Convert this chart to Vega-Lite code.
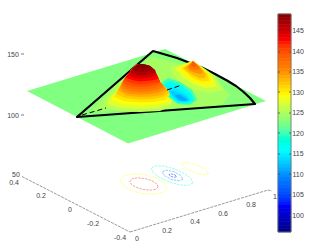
{"$schema":"https://vega.github.io/schema/vega-lite/v6.json","width":317,"height":245,"padding":0,"autosize":"none","background":"white","config":{"view":{"stroke":null}},
"datasets":{
"back":[
{"s":"plane","i":0,"u":27,"v":91,"z":122.5},{"s":"plane","i":1,"u":165,"v":49,"z":122.5},{"s":"plane","i":2,"u":266,"v":101,"z":122.5},{"s":"plane","i":3,"u":128,"v":143.5,"z":122.5},
{"s":"base","i":0,"u":77,"v":117,"z":123},{"s":"base","i":1,"u":153,"v":51,"z":123},{"s":"base","i":2,"u":165,"v":54.5,"z":123},{"s":"base","i":3,"u":177,"v":58,"z":123},{"s":"base","i":4,"u":190,"v":63,"z":123},{"s":"base","i":5,"u":203,"v":68,"z":123},{"s":"base","i":6,"u":215,"v":74,"z":123},{"s":"base","i":7,"u":227,"v":80.5,"z":123},{"s":"base","i":8,"u":236,"v":86,"z":123},{"s":"base","i":9,"u":243,"v":91.5,"z":123},{"s":"base","i":10,"u":250,"v":98,"z":123},{"s":"base","i":11,"u":255,"v":104,"z":123},
{"s":"glow","i":0,"u":92,"v":111,"z":124.5},{"s":"glow","i":1,"u":115,"v":85,"z":124.5},{"s":"glow","i":2,"u":150,"v":57,"z":124.5},{"s":"glow","i":3,"u":175,"v":62,"z":124.5},{"s":"glow","i":4,"u":205,"v":75,"z":124.5},{"s":"glow","i":5,"u":230,"v":94,"z":124.5},{"s":"glow","i":6,"u":222,"v":105,"z":124.5},{"s":"glow","i":7,"u":150,"v":110,"z":124.5}
],
"bar":[
{"u":278,"u2":291,"v":14,"v2":17.4,"z":148.7},{"u":278,"u2":291,"v":17.4,"v2":20.8,"z":147.9},{"u":278,"u2":291,"v":20.8,"v2":24.2,"z":147},{"u":278,"u2":291,"v":24.2,"v2":27.6,"z":146.2},{"u":278,"u2":291,"v":27.6,"v2":31,"z":145.4},{"u":278,"u2":291,"v":31,"v2":34.4,"z":144.5},{"u":278,"u2":291,"v":34.4,"v2":37.8,"z":143.7},{"u":278,"u2":291,"v":37.8,"v2":41.2,"z":142.9},{"u":278,"u2":291,"v":41.2,"v2":44.7,"z":142.1},{"u":278,"u2":291,"v":44.7,"v2":48.1,"z":141.2},{"u":278,"u2":291,"v":48.1,"v2":51.5,"z":140.4},{"u":278,"u2":291,"v":51.5,"v2":54.9,"z":139.6},{"u":278,"u2":291,"v":54.9,"v2":58.3,"z":138.7},{"u":278,"u2":291,"v":58.3,"v2":61.7,"z":137.9},{"u":278,"u2":291,"v":61.7,"v2":65.1,"z":137.1},{"u":278,"u2":291,"v":65.1,"v2":68.5,"z":136.3},{"u":278,"u2":291,"v":68.5,"v2":71.9,"z":135.4},{"u":278,"u2":291,"v":71.9,"v2":75.3,"z":134.6},{"u":278,"u2":291,"v":75.3,"v2":78.7,"z":133.8},{"u":278,"u2":291,"v":78.7,"v2":82.1,"z":132.9},{"u":278,"u2":291,"v":82.1,"v2":85.5,"z":132.1},{"u":278,"u2":291,"v":85.5,"v2":88.9,"z":131.3},{"u":278,"u2":291,"v":88.9,"v2":92.3,"z":130.4},{"u":278,"u2":291,"v":92.3,"v2":95.7,"z":129.6},{"u":278,"u2":291,"v":95.7,"v2":99.2,"z":128.8},{"u":278,"u2":291,"v":99.2,"v2":102.6,"z":128},{"u":278,"u2":291,"v":102.6,"v2":106,"z":127.1},{"u":278,"u2":291,"v":106,"v2":109.4,"z":126.3},{"u":278,"u2":291,"v":109.4,"v2":112.8,"z":125.5},{"u":278,"u2":291,"v":112.8,"v2":116.2,"z":124.6},{"u":278,"u2":291,"v":116.2,"v2":119.6,"z":123.8},{"u":278,"u2":291,"v":119.6,"v2":123,"z":123},{"u":278,"u2":291,"v":123,"v2":126.4,"z":122.1},{"u":278,"u2":291,"v":126.4,"v2":129.8,"z":121.3},{"u":278,"u2":291,"v":129.8,"v2":133.2,"z":120.5},{"u":278,"u2":291,"v":133.2,"v2":136.6,"z":119.6},{"u":278,"u2":291,"v":136.6,"v2":140,"z":118.8},{"u":278,"u2":291,"v":140,"v2":143.4,"z":118},{"u":278,"u2":291,"v":143.4,"v2":146.8,"z":117.2},{"u":278,"u2":291,"v":146.8,"v2":150.2,"z":116.3},{"u":278,"u2":291,"v":150.2,"v2":153.6,"z":115.5},{"u":278,"u2":291,"v":153.6,"v2":157.1,"z":114.7},{"u":278,"u2":291,"v":157.1,"v2":160.5,"z":113.8},{"u":278,"u2":291,"v":160.5,"v2":163.9,"z":113},{"u":278,"u2":291,"v":163.9,"v2":167.3,"z":112.2},{"u":278,"u2":291,"v":167.3,"v2":170.7,"z":111.3},{"u":278,"u2":291,"v":170.7,"v2":174.1,"z":110.5},{"u":278,"u2":291,"v":174.1,"v2":177.5,"z":109.7},{"u":278,"u2":291,"v":177.5,"v2":180.9,"z":108.9},{"u":278,"u2":291,"v":180.9,"v2":184.3,"z":108},{"u":278,"u2":291,"v":184.3,"v2":187.7,"z":107.2},{"u":278,"u2":291,"v":187.7,"v2":191.1,"z":106.4},{"u":278,"u2":291,"v":191.1,"v2":194.5,"z":105.5},{"u":278,"u2":291,"v":194.5,"v2":197.9,"z":104.7},{"u":278,"u2":291,"v":197.9,"v2":201.3,"z":103.9},{"u":278,"u2":291,"v":201.3,"v2":204.7,"z":103},{"u":278,"u2":291,"v":204.7,"v2":208.1,"z":102.2},{"u":278,"u2":291,"v":208.1,"v2":211.6,"z":101.4},{"u":278,"u2":291,"v":211.6,"v2":215,"z":100.6},{"u":278,"u2":291,"v":215,"v2":218.4,"z":99.7},{"u":278,"u2":291,"v":218.4,"v2":221.8,"z":98.9},{"u":278,"u2":291,"v":221.8,"v2":225.2,"z":98.1},{"u":278,"u2":291,"v":225.2,"v2":228.6,"z":97.2},{"u":278,"u2":291,"v":228.6,"v2":232,"z":96.4}
],
"frame":[{"s":"f","i":0,"u":278,"v":14},{"s":"f","i":1,"u":291,"v":14},{"s":"f","i":2,"u":291,"v":232},{"s":"f","i":3,"u":278,"v":232},{"s":"f","i":4,"u":278,"v":14}],
"dip":[
{"s":"d1","i":0,"u":160,"v":84,"z":120},{"s":"d1","i":1,"u":168,"v":78,"z":120},{"s":"d1","i":2,"u":180,"v":82,"z":120},{"s":"d1","i":3,"u":192,"v":90,"z":120},{"s":"d1","i":4,"u":197,"v":100,"z":120},{"s":"d1","i":5,"u":190,"v":105,"z":120},{"s":"d1","i":6,"u":178,"v":104,"z":120},{"s":"d1","i":7,"u":167,"v":96,"z":120},
{"s":"d2","i":0,"u":163,"v":85,"z":117},{"s":"d2","i":1,"u":170,"v":81,"z":117},{"s":"d2","i":2,"u":180,"v":85,"z":117},{"s":"d2","i":3,"u":191,"v":93,"z":117},{"s":"d2","i":4,"u":194,"v":100,"z":117},{"s":"d2","i":5,"u":188,"v":103.5,"z":117},{"s":"d2","i":6,"u":178,"v":103,"z":117},{"s":"d2","i":7,"u":168,"v":95,"z":117},
{"s":"d3","i":0,"u":165,"v":86,"z":115.5},{"s":"d3","i":1,"u":171,"v":84,"z":115.5},{"s":"d3","i":2,"u":180,"v":88,"z":115.5},{"s":"d3","i":3,"u":189,"v":95,"z":115.5},{"s":"d3","i":4,"u":192,"v":100,"z":115.5},{"s":"d3","i":5,"u":187,"v":102.5,"z":115.5},{"s":"d3","i":6,"u":178,"v":102,"z":115.5},{"s":"d3","i":7,"u":169,"v":94,"z":115.5},
{"s":"d4","i":0,"u":167,"v":88,"z":114.5},{"s":"d4","i":1,"u":172,"v":87,"z":114.5},{"s":"d4","i":2,"u":180,"v":90,"z":114.5},{"s":"d4","i":3,"u":188,"v":96,"z":114.5},{"s":"d4","i":4,"u":190.5,"v":100,"z":114.5},{"s":"d4","i":5,"u":186,"v":102,"z":114.5},{"s":"d4","i":6,"u":178,"v":101.5,"z":114.5},{"s":"d4","i":7,"u":171,"v":95,"z":114.5},
{"s":"d5","i":0,"u":170,"v":91,"z":113},{"s":"d5","i":1,"u":175,"v":91,"z":113},{"s":"d5","i":2,"u":182,"v":94,"z":113},{"s":"d5","i":3,"u":188,"v":98,"z":113},{"s":"d5","i":4,"u":189,"v":100.5,"z":113},{"s":"d5","i":5,"u":185,"v":101.5,"z":113},{"s":"d5","i":6,"u":178,"v":100.5,"z":113},{"s":"d5","i":7,"u":173,"v":96,"z":113},
{"s":"d6","i":0,"u":175,"v":95,"z":111},{"s":"d6","i":1,"u":180,"v":95,"z":111},{"s":"d6","i":2,"u":185,"v":98,"z":111},{"s":"d6","i":3,"u":187.5,"v":100.5,"z":111},{"s":"d6","i":4,"u":184,"v":101,"z":111},{"s":"d6","i":5,"u":179,"v":100,"z":111}
],
"edge":[
{"s":"e","i":0,"u":77,"v":117},{"s":"e","i":1,"u":153,"v":51},{"s":"e","i":2,"u":165,"v":54.5},{"s":"e","i":3,"u":177,"v":58},{"s":"e","i":4,"u":190,"v":63},{"s":"e","i":5,"u":203,"v":68},{"s":"e","i":6,"u":215,"v":74},{"s":"e","i":7,"u":227,"v":80.5},{"s":"e","i":8,"u":236,"v":86},{"s":"e","i":9,"u":243,"v":91.5},{"s":"e","i":10,"u":250,"v":98},{"s":"e","i":11,"u":255,"v":104},{"s":"e","i":12,"u":77,"v":117}
],
"hills1":[
{"s":"a1","i":0,"u":170,"v":67,"z":126},{"s":"a1","i":1,"u":183,"v":64,"z":126},{"s":"a1","i":2,"u":193,"v":61,"z":126},{"s":"a1","i":3,"u":204,"v":68,"z":126},{"s":"a1","i":4,"u":215,"v":76,"z":126},{"s":"a1","i":5,"u":224,"v":90,"z":126},{"s":"a1","i":6,"u":210,"v":93,"z":126},{"s":"a1","i":7,"u":194,"v":90,"z":126},{"s":"a1","i":8,"u":180,"v":82,"z":126},{"s":"a1","i":9,"u":172,"v":73,"z":126},
{"s":"a2","i":0,"u":175,"v":68,"z":128},{"s":"a2","i":1,"u":185,"v":64,"z":128},{"s":"a2","i":2,"u":193,"v":61,"z":128},{"s":"a2","i":3,"u":203,"v":68,"z":128},{"s":"a2","i":4,"u":213,"v":77,"z":128},{"s":"a2","i":5,"u":217,"v":87,"z":128},{"s":"a2","i":6,"u":205,"v":88,"z":128},{"s":"a2","i":7,"u":193,"v":84,"z":128},{"s":"a2","i":8,"u":182,"v":77,"z":128},
{"s":"a3","i":0,"u":179,"v":68,"z":129.5},{"s":"a3","i":1,"u":186,"v":65,"z":129.5},{"s":"a3","i":2,"u":193,"v":61,"z":129.5},{"s":"a3","i":3,"u":202,"v":68,"z":129.5},{"s":"a3","i":4,"u":211,"v":76,"z":129.5},{"s":"a3","i":5,"u":213,"v":84,"z":129.5},{"s":"a3","i":6,"u":204,"v":85,"z":129.5},{"s":"a3","i":7,"u":193,"v":81,"z":129.5},{"s":"a3","i":8,"u":184,"v":74,"z":129.5},
{"s":"a4","i":0,"u":182,"v":68,"z":131},{"s":"a4","i":1,"u":187,"v":65,"z":131},{"s":"a4","i":2,"u":193,"v":61,"z":131},{"s":"a4","i":3,"u":201,"v":67,"z":131},{"s":"a4","i":4,"u":208,"v":75,"z":131},{"s":"a4","i":5,"u":209,"v":81,"z":131},{"s":"a4","i":6,"u":202,"v":81.5,"z":131},{"s":"a4","i":7,"u":193,"v":78,"z":131},{"s":"a4","i":8,"u":186,"v":72,"z":131},
{"s":"a5","i":0,"u":184,"v":68,"z":133},{"s":"a5","i":1,"u":188,"v":65,"z":133},{"s":"a5","i":2,"u":193,"v":61,"z":133},{"s":"a5","i":3,"u":200,"v":67,"z":133},{"s":"a5","i":4,"u":206,"v":74,"z":133},{"s":"a5","i":5,"u":205,"v":78,"z":133},{"s":"a5","i":6,"u":199,"v":78,"z":133},{"s":"a5","i":7,"u":193,"v":75,"z":133},{"s":"a5","i":8,"u":187,"v":71,"z":133},
{"s":"a6","i":0,"u":187,"v":67,"z":135},{"s":"a6","i":1,"u":193,"v":61,"z":135},{"s":"a6","i":2,"u":199,"v":66,"z":135},{"s":"a6","i":3,"u":203,"v":72,"z":135},{"s":"a6","i":4,"u":201,"v":74,"z":135},{"s":"a6","i":5,"u":196,"v":73,"z":135},{"s":"a6","i":6,"u":190,"v":71,"z":135},
{"s":"a7","i":0,"u":189,"v":66,"z":137},{"s":"a7","i":1,"u":193,"v":61,"z":137},{"s":"a7","i":2,"u":198,"v":66,"z":137},{"s":"a7","i":3,"u":200,"v":69,"z":137},{"s":"a7","i":4,"u":196,"v":70,"z":137},{"s":"a7","i":5,"u":191,"v":69,"z":137},
{"s":"a8","i":0,"u":191,"v":65,"z":139},{"s":"a8","i":1,"u":193,"v":61,"z":139},{"s":"a8","i":2,"u":196,"v":64.5,"z":139},{"s":"a8","i":3,"u":197,"v":66,"z":139},{"s":"a8","i":4,"u":194,"v":67,"z":139},
{"s":"b01","i":0,"u":103,"v":106,"z":125.5},{"s":"b01","i":1,"u":107,"v":97,"z":125.5},{"s":"b01","i":2,"u":114,"v":90,"z":125.5},{"s":"b01","i":3,"u":125,"v":78,"z":125.5},{"s":"b01","i":4,"u":133,"v":68,"z":125.5},{"s":"b01","i":5,"u":137,"v":64.5,"z":125.5},{"s":"b01","i":6,"u":141,"v":64,"z":125.5},{"s":"b01","i":7,"u":150,"v":66,"z":125.5},{"s":"b01","i":8,"u":157.5,"v":76,"z":125.5},{"s":"b01","i":9,"u":160,"v":82,"z":125.5},{"s":"b01","i":10,"u":168,"v":90,"z":125.5},{"s":"b01","i":11,"u":173,"v":98,"z":125.5},{"s":"b01","i":12,"u":172,"v":106,"z":125.5},{"s":"b01","i":13,"u":160,"v":111,"z":125.5},{"s":"b01","i":14,"u":140,"v":112,"z":125.5},{"s":"b01","i":15,"u":118,"v":111,"z":125.5},
{"s":"b02","i":0,"u":107,"v":104,"z":127.5},{"s":"b02","i":1,"u":111,"v":96,"z":127.5},{"s":"b02","i":2,"u":117,"v":92,"z":127.5},{"s":"b02","i":3,"u":125,"v":78,"z":127.5},{"s":"b02","i":4,"u":133,"v":68,"z":127.5},{"s":"b02","i":5,"u":137,"v":64.5,"z":127.5},{"s":"b02","i":6,"u":141,"v":64,"z":127.5},{"s":"b02","i":7,"u":150,"v":66,"z":127.5},{"s":"b02","i":8,"u":157.5,"v":76,"z":127.5},{"s":"b02","i":9,"u":160,"v":82,"z":127.5},{"s":"b02","i":10,"u":168,"v":90,"z":127.5},{"s":"b02","i":11,"u":172,"v":97,"z":127.5},{"s":"b02","i":12,"u":171,"v":104,"z":127.5},{"s":"b02","i":13,"u":158,"v":108,"z":127.5},{"s":"b02","i":14,"u":140,"v":109,"z":127.5},{"s":"b02","i":15,"u":120,"v":108,"z":127.5},
{"s":"b03","i":0,"u":111,"v":100,"z":129},{"s":"b03","i":1,"u":117,"v":92,"z":129},{"s":"b03","i":2,"u":125,"v":78,"z":129},{"s":"b03","i":3,"u":133,"v":68,"z":129},{"s":"b03","i":4,"u":137,"v":64.5,"z":129},{"s":"b03","i":5,"u":141,"v":64,"z":129},{"s":"b03","i":6,"u":150,"v":66,"z":129},{"s":"b03","i":7,"u":157.5,"v":76,"z":129},{"s":"b03","i":8,"u":160,"v":82,"z":129},{"s":"b03","i":9,"u":168,"v":90,"z":129},{"s":"b03","i":10,"u":171,"v":97,"z":129},{"s":"b03","i":11,"u":168,"v":102,"z":129},{"s":"b03","i":12,"u":155,"v":105,"z":129},{"s":"b03","i":13,"u":140,"v":105.5,"z":129},{"s":"b03","i":14,"u":122,"v":104,"z":129}
],
"hills2":[
{"s":"b04","i":0,"u":114,"v":97,"z":130.5},{"s":"b04","i":1,"u":117,"v":92,"z":130.5},{"s":"b04","i":2,"u":125,"v":78,"z":130.5},{"s":"b04","i":3,"u":133,"v":68,"z":130.5},{"s":"b04","i":4,"u":137,"v":64.5,"z":130.5},{"s":"b04","i":5,"u":141,"v":64,"z":130.5},{"s":"b04","i":6,"u":150,"v":66,"z":130.5},{"s":"b04","i":7,"u":157.5,"v":76,"z":130.5},{"s":"b04","i":8,"u":160,"v":82,"z":130.5},{"s":"b04","i":9,"u":168,"v":90,"z":130.5},{"s":"b04","i":10,"u":170,"v":95,"z":130.5},{"s":"b04","i":11,"u":165,"v":100,"z":130.5},{"s":"b04","i":12,"u":154,"v":102,"z":130.5},{"s":"b04","i":13,"u":140,"v":102.5,"z":130.5},{"s":"b04","i":14,"u":124,"v":101,"z":130.5},
{"s":"b05","i":0,"u":116,"v":94,"z":132},{"s":"b05","i":1,"u":117,"v":92,"z":132},{"s":"b05","i":2,"u":125,"v":78,"z":132},{"s":"b05","i":3,"u":133,"v":68,"z":132},{"s":"b05","i":4,"u":137,"v":64.5,"z":132},{"s":"b05","i":5,"u":141,"v":64,"z":132},{"s":"b05","i":6,"u":150,"v":66,"z":132},{"s":"b05","i":7,"u":157.5,"v":76,"z":132},{"s":"b05","i":8,"u":160,"v":82,"z":132},{"s":"b05","i":9,"u":168,"v":90,"z":132},{"s":"b05","i":10,"u":169,"v":93,"z":132},{"s":"b05","i":11,"u":163,"v":97,"z":132},{"s":"b05","i":12,"u":153,"v":99,"z":132},{"s":"b05","i":13,"u":140,"v":99.5,"z":132},{"s":"b05","i":14,"u":125,"v":98,"z":132},
{"s":"b06","i":0,"u":118,"v":90,"z":133.5},{"s":"b06","i":1,"u":125,"v":78,"z":133.5},{"s":"b06","i":2,"u":133,"v":68,"z":133.5},{"s":"b06","i":3,"u":137,"v":64.5,"z":133.5},{"s":"b06","i":4,"u":141,"v":64,"z":133.5},{"s":"b06","i":5,"u":150,"v":66,"z":133.5},{"s":"b06","i":6,"u":157.5,"v":76,"z":133.5},{"s":"b06","i":7,"u":160,"v":82,"z":133.5},{"s":"b06","i":8,"u":166,"v":88,"z":133.5},{"s":"b06","i":9,"u":167,"v":91,"z":133.5},{"s":"b06","i":10,"u":161,"v":95,"z":133.5},{"s":"b06","i":11,"u":152,"v":96.5,"z":133.5},{"s":"b06","i":12,"u":140,"v":97,"z":133.5},{"s":"b06","i":13,"u":126,"v":95.5,"z":133.5},
{"s":"b07","i":0,"u":120,"v":87,"z":135},{"s":"b07","i":1,"u":125,"v":78,"z":135},{"s":"b07","i":2,"u":133,"v":68,"z":135},{"s":"b07","i":3,"u":137,"v":64.5,"z":135},{"s":"b07","i":4,"u":141,"v":64,"z":135},{"s":"b07","i":5,"u":150,"v":66,"z":135},{"s":"b07","i":6,"u":157.5,"v":76,"z":135},{"s":"b07","i":7,"u":160,"v":82,"z":135},{"s":"b07","i":8,"u":164,"v":86,"z":135},{"s":"b07","i":9,"u":165,"v":89,"z":135},{"s":"b07","i":10,"u":159,"v":92.5,"z":135},{"s":"b07","i":11,"u":150,"v":94,"z":135},{"s":"b07","i":12,"u":140,"v":94.5,"z":135},{"s":"b07","i":13,"u":128,"v":93.5,"z":135},{"s":"b07","i":14,"u":122,"v":91,"z":135},
{"s":"b08","i":0,"u":121,"v":85,"z":136.5},{"s":"b08","i":1,"u":125,"v":78,"z":136.5},{"s":"b08","i":2,"u":133,"v":68,"z":136.5},{"s":"b08","i":3,"u":137,"v":64.5,"z":136.5},{"s":"b08","i":4,"u":141,"v":64,"z":136.5},{"s":"b08","i":5,"u":150,"v":66,"z":136.5},{"s":"b08","i":6,"u":157.5,"v":76,"z":136.5},{"s":"b08","i":7,"u":160,"v":82,"z":136.5},{"s":"b08","i":8,"u":163,"v":85,"z":136.5},{"s":"b08","i":9,"u":163,"v":87.5,"z":136.5},{"s":"b08","i":10,"u":157,"v":90,"z":136.5},{"s":"b08","i":11,"u":149,"v":91.5,"z":136.5},{"s":"b08","i":12,"u":140,"v":92,"z":136.5},{"s":"b08","i":13,"u":130,"v":91,"z":136.5},{"s":"b08","i":14,"u":123,"v":88.5,"z":136.5},
{"s":"b09","i":0,"u":122,"v":83,"z":138},{"s":"b09","i":1,"u":125,"v":78,"z":138},{"s":"b09","i":2,"u":133,"v":68,"z":138},{"s":"b09","i":3,"u":137,"v":64.5,"z":138},{"s":"b09","i":4,"u":141,"v":64,"z":138},{"s":"b09","i":5,"u":150,"v":66,"z":138},{"s":"b09","i":6,"u":157.5,"v":76,"z":138},{"s":"b09","i":7,"u":160,"v":82,"z":138},{"s":"b09","i":8,"u":161,"v":85,"z":138},{"s":"b09","i":9,"u":155,"v":88,"z":138},{"s":"b09","i":10,"u":148,"v":89,"z":138},{"s":"b09","i":11,"u":140,"v":89.5,"z":138},{"s":"b09","i":12,"u":131,"v":88.5,"z":138},{"s":"b09","i":13,"u":124,"v":86,"z":138},
{"s":"b10","i":0,"u":123,"v":81,"z":139.5},{"s":"b10","i":1,"u":125,"v":78,"z":139.5},{"s":"b10","i":2,"u":133,"v":68,"z":139.5},{"s":"b10","i":3,"u":137,"v":64.5,"z":139.5},{"s":"b10","i":4,"u":141,"v":64,"z":139.5},{"s":"b10","i":5,"u":150,"v":66,"z":139.5},{"s":"b10","i":6,"u":157.5,"v":76,"z":139.5},{"s":"b10","i":7,"u":160.5,"v":83,"z":139.5},{"s":"b10","i":8,"u":154,"v":85.5,"z":139.5},{"s":"b10","i":9,"u":147,"v":86.5,"z":139.5},{"s":"b10","i":10,"u":140,"v":87,"z":139.5},{"s":"b10","i":11,"u":132,"v":86,"z":139.5},{"s":"b10","i":12,"u":125,"v":84,"z":139.5},
{"s":"b11","i":0,"u":124.5,"v":79,"z":141},{"s":"b11","i":1,"u":133,"v":68,"z":141},{"s":"b11","i":2,"u":137,"v":64.5,"z":141},{"s":"b11","i":3,"u":141,"v":64,"z":141},{"s":"b11","i":4,"u":150,"v":66,"z":141},{"s":"b11","i":5,"u":157.5,"v":76,"z":141},{"s":"b11","i":6,"u":160,"v":82,"z":141},{"s":"b11","i":7,"u":152,"v":83,"z":141},{"s":"b11","i":8,"u":146,"v":84,"z":141},{"s":"b11","i":9,"u":140,"v":84.5,"z":141},{"s":"b11","i":10,"u":133,"v":83.5,"z":141},{"s":"b11","i":11,"u":127,"v":81.5,"z":141},
{"s":"b12","i":0,"u":125.5,"v":77.5,"z":142.5},{"s":"b12","i":1,"u":133,"v":68,"z":142.5},{"s":"b12","i":2,"u":137,"v":64.5,"z":142.5},{"s":"b12","i":3,"u":141,"v":64,"z":142.5},{"s":"b12","i":4,"u":150,"v":66,"z":142.5},{"s":"b12","i":5,"u":157.5,"v":76,"z":142.5},{"s":"b12","i":6,"u":158.5,"v":79,"z":142.5},{"s":"b12","i":7,"u":151,"v":80.5,"z":142.5},{"s":"b12","i":8,"u":145,"v":81,"z":142.5},{"s":"b12","i":9,"u":140,"v":81.5,"z":142.5},{"s":"b12","i":10,"u":134,"v":80.5,"z":142.5},{"s":"b12","i":11,"u":128,"v":78.5,"z":142.5},
{"s":"b13","i":0,"u":127,"v":75.5,"z":144.5},{"s":"b13","i":1,"u":133,"v":68,"z":144.5},{"s":"b13","i":2,"u":137,"v":64.5,"z":144.5},{"s":"b13","i":3,"u":141,"v":64,"z":144.5},{"s":"b13","i":4,"u":150,"v":66,"z":144.5},{"s":"b13","i":5,"u":155,"v":70,"z":144.5},{"s":"b13","i":6,"u":157,"v":75,"z":144.5},{"s":"b13","i":7,"u":150,"v":77.5,"z":144.5},{"s":"b13","i":8,"u":145,"v":78,"z":144.5},{"s":"b13","i":9,"u":140,"v":78.5,"z":144.5},{"s":"b13","i":10,"u":134,"v":77.5,"z":144.5},{"s":"b13","i":11,"u":129,"v":75.5,"z":144.5},
{"s":"b14","i":0,"u":131,"v":70.5,"z":146.5},{"s":"b14","i":1,"u":133,"v":68,"z":146.5},{"s":"b14","i":2,"u":137,"v":64.5,"z":146.5},{"s":"b14","i":3,"u":141,"v":64,"z":146.5},{"s":"b14","i":4,"u":150,"v":66,"z":146.5},{"s":"b14","i":5,"u":155,"v":70,"z":146.5},{"s":"b14","i":6,"u":155.5,"v":72.5,"z":146.5},{"s":"b14","i":7,"u":150,"v":74.5,"z":146.5},{"s":"b14","i":8,"u":145,"v":75,"z":146.5},{"s":"b14","i":9,"u":140,"v":75.5,"z":146.5},{"s":"b14","i":10,"u":135,"v":74.5,"z":146.5},{"s":"b14","i":11,"u":131,"v":72.5,"z":146.5},
{"s":"b15","i":0,"u":133,"v":68,"z":148},{"s":"b15","i":1,"u":137,"v":64.5,"z":148},{"s":"b15","i":2,"u":141,"v":64,"z":148},{"s":"b15","i":3,"u":150,"v":66,"z":148},{"s":"b15","i":4,"u":153,"v":68.5,"z":148},{"s":"b15","i":5,"u":150,"v":70.5,"z":148},{"s":"b15","i":6,"u":145,"v":71.5,"z":148},{"s":"b15","i":7,"u":140,"v":72,"z":148},{"s":"b15","i":8,"u":136,"v":71,"z":148},{"s":"b15","i":9,"u":133,"v":69.5,"z":148},
{"s":"b16","i":0,"u":136,"v":65.5,"z":149},{"s":"b16","i":1,"u":141,"v":64,"z":149},{"s":"b16","i":2,"u":146,"v":64.5,"z":149},{"s":"b16","i":3,"u":150,"v":66.5,"z":149},{"s":"b16","i":4,"u":146,"v":68,"z":149},{"s":"b16","i":5,"u":141,"v":68.5,"z":149},{"s":"b16","i":6,"u":137,"v":67.5,"z":149}
],
"hidden":[{"s":"h1","i":0,"u":82,"v":115},{"s":"h1","i":1,"u":106,"v":108},{"s":"h2","i":0,"u":167,"v":90},{"s":"h2","i":1,"u":182,"v":85}],
"contours":[
{"s":"c1","i":0,"u":166.7,"v":188.1,"z":129},{"s":"c1","i":1,"u":162.8,"v":192.3,"z":129},{"s":"c1","i":2,"u":153.7,"v":194.2,"z":129},{"s":"c1","i":3,"u":141.9,"v":193.4,"z":129},{"s":"c1","i":4,"u":130.5,"v":190.1,"z":129},{"s":"c1","i":5,"u":122.6,"v":185.2,"z":129},{"s":"c1","i":6,"u":120.3,"v":179.9,"z":129},{"s":"c1","i":7,"u":124.2,"v":175.7,"z":129},{"s":"c1","i":8,"u":133.3,"v":173.8,"z":129},{"s":"c1","i":9,"u":145.1,"v":174.6,"z":129},{"s":"c1","i":10,"u":156.5,"v":177.9,"z":129},{"s":"c1","i":11,"u":164.4,"v":182.8,"z":129},{"s":"c1","i":12,"u":166.7,"v":188.1,"z":129},
{"s":"c2","i":0,"u":158.2,"v":187,"z":141},{"s":"c2","i":1,"u":155.75,"v":189.3,"z":141},{"s":"c2","i":2,"u":150.15,"v":190.2,"z":141},{"s":"c2","i":3,"u":142.9,"v":189.4,"z":141},{"s":"c2","i":4,"u":135.95,"v":187.2,"z":141},{"s":"c2","i":5,"u":131.15,"v":184.1,"z":141},{"s":"c2","i":6,"u":129.8,"v":181,"z":141},{"s":"c2","i":7,"u":132.25,"v":178.7,"z":141},{"s":"c2","i":8,"u":137.85,"v":177.8,"z":141},{"s":"c2","i":9,"u":145.1,"v":178.6,"z":141},{"s":"c2","i":10,"u":152.05,"v":180.8,"z":141},{"s":"c2","i":11,"u":156.85,"v":183.9,"z":141},{"s":"c2","i":12,"u":158.2,"v":187,"z":141},
{"s":"c3","i":0,"u":192.7,"v":183,"z":119},{"s":"c3","i":1,"u":188.7,"v":185.3,"z":119},{"s":"c3","i":2,"u":180.25,"v":185,"z":119},{"s":"c3","i":3,"u":169.6,"v":182.1,"z":119},{"s":"c3","i":4,"u":159.55,"v":177.45,"z":119},{"s":"c3","i":5,"u":152.9,"v":172.3,"z":119},{"s":"c3","i":6,"u":151.3,"v":168,"z":119},{"s":"c3","i":7,"u":155.3,"v":165.7,"z":119},{"s":"c3","i":8,"u":163.75,"v":166.05,"z":119},{"s":"c3","i":9,"u":174.4,"v":168.9,"z":119},{"s":"c3","i":10,"u":184.45,"v":173.55,"z":119},{"s":"c3","i":11,"u":191.1,"v":178.7,"z":119},{"s":"c3","i":12,"u":192.7,"v":183,"z":119},
{"s":"c4","i":0,"u":182.8,"v":179.3,"z":110},{"s":"c4","i":1,"u":178.8,"v":180.9,"z":110},{"s":"c4","i":2,"u":171.1,"v":179.3,"z":110},{"s":"c4","i":3,"u":164.2,"v":175.5,"z":110},{"s":"c4","i":4,"u":162.2,"v":171.7,"z":110},{"s":"c4","i":5,"u":166.2,"v":170.1,"z":110},{"s":"c4","i":6,"u":173.9,"v":171.7,"z":110},{"s":"c4","i":7,"u":180.8,"v":175.5,"z":110},{"s":"c4","i":8,"u":182.8,"v":179.3,"z":110},
{"s":"c5","i":0,"u":176.5,"v":176.8,"z":102},{"s":"c5","i":1,"u":173.5,"v":177.3,"z":102},{"s":"c5","i":2,"u":170,"v":176,"z":102},{"s":"c5","i":3,"u":169,"v":174.5,"z":102},{"s":"c5","i":4,"u":171.5,"v":174,"z":102},{"s":"c5","i":5,"u":175,"v":174.8,"z":102},{"s":"c5","i":6,"u":176.5,"v":176.8,"z":102},
{"s":"c6","i":0,"u":208.6,"v":173.5,"z":129},{"s":"c6","i":1,"u":203.6,"v":174.7,"z":129},{"s":"c6","i":2,"u":193.6,"v":172.3,"z":129},{"s":"c6","i":3,"u":184.4,"v":167.65,"z":129},{"s":"c6","i":4,"u":181.4,"v":163.5,"z":129},{"s":"c6","i":5,"u":186.4,"v":162.3,"z":129},{"s":"c6","i":6,"u":196.4,"v":164.7,"z":129},{"s":"c6","i":7,"u":205.6,"v":169.35,"z":129},{"s":"c6","i":8,"u":208.6,"v":173.5,"z":129}
],
"axes":[{"s":"x1","i":0,"u":22,"v":176.5},{"s":"x1","i":1,"u":130,"v":232},{"s":"x2","i":0,"u":130,"v":232},{"s":"x2","i":1,"u":268,"v":190},{"s":"x2","i":2,"u":272,"v":191}],
"ticks":[
{"u":21,"v":54,"u2":24},{"u":21,"v":115,"u2":24},
{"u":278,"v":31,"u2":280},{"u":289,"v":31,"u2":291},{"u":278,"v":52,"u2":280},{"u":289,"v":52,"u2":291},{"u":278,"v":72,"u2":280},{"u":289,"v":72,"u2":291},{"u":278,"v":92,"u2":280},{"u":289,"v":92,"u2":291},{"u":278,"v":113,"u2":280},{"u":289,"v":113,"u2":291},{"u":278,"v":133,"u2":280},{"u":289,"v":133,"u2":291},{"u":278,"v":154,"u2":280},{"u":289,"v":154,"u2":291},{"u":278,"v":174,"u2":280},{"u":289,"v":174,"u2":291},{"u":278,"v":195,"u2":280},{"u":289,"v":195,"u2":291},{"u":278,"v":215,"u2":280},{"u":289,"v":215,"u2":291}
],
"labels":[
{"t":"150","u":13,"v":54.5},{"t":"100","u":13,"v":115.5},{"t":"50","u":16,"v":175},{"t":"0.4","u":14,"v":183},{"t":"0.2","u":41,"v":196},{"t":"0","u":70,"v":210},{"t":"-0.2","u":93,"v":224},{"t":"-0.4","u":120,"v":238},{"t":"0","u":137,"v":238.5},{"t":"0.2","u":167,"v":230.5},{"t":"0.4","u":195,"v":222},{"t":"0.6","u":223,"v":213.5},{"t":"0.8","u":251,"v":205},{"t":"1","u":275,"v":197},
{"t":"145","u":298,"v":31},{"t":"140","u":298,"v":52},{"t":"135","u":298,"v":72},{"t":"130","u":298,"v":92.5},{"t":"125","u":298,"v":113},{"t":"120","u":298,"v":133.5},{"t":"115","u":298,"v":154},{"t":"110","u":298,"v":174.5},{"t":"105","u":298,"v":195},{"t":"100","u":298,"v":215.5}
]
},
"encoding":{"x":{"field":"u","type":"quantitative","scale":{"domain":[0,317],"nice":false,"zero":false},"axis":null},"y":{"field":"v","type":"quantitative","scale":{"domain":[245,0],"nice":false,"zero":false},"axis":null}},
"layer":[
{"data":{"name":"back"},"mark":{"type":"line","strokeWidth":0},"encoding":{"detail":{"field":"s"},"order":{"field":"i"},"fill":{"field":"z","type":"quantitative","legend":null,"scale":{"domain":[95.9,102.55,109.2,115.85,122.5,129.15,135.8,142.45,149.1],"range":["#000080","#0000ff","#0080ff","#00ffff","#80ff80","#ffff00","#ff8000","#ff0000","#800000"]}}}},
{"data":{"name":"bar"},"mark":{"type":"rect","strokeWidth":0.7},"encoding":{"x2":{"field":"u2"},"y2":{"field":"v2"},"fill":{"field":"z","type":"quantitative","legend":null},"stroke":{"field":"z","type":"quantitative","legend":null}}},
{"data":{"name":"frame"},"mark":{"type":"line","stroke":"#777777","strokeWidth":0.8},"encoding":{"order":{"field":"i"}}},
{"data":{"name":"edge"},"mark":{"type":"line","stroke":"#000000","strokeWidth":2.2,"strokeJoin":"round","strokeCap":"round"},"encoding":{"order":{"field":"i"}}},
{"data":{"name":"hills1"},"mark":{"type":"line","strokeWidth":0},"encoding":{"detail":{"field":"s"},"order":{"field":"i"},"fill":{"field":"z","type":"quantitative","legend":null}}},
{"data":{"name":"dip"},"mark":{"type":"line","strokeWidth":0},"encoding":{"detail":{"field":"s"},"order":{"field":"i"},"fill":{"field":"z","type":"quantitative","legend":null}}},
{"data":{"name":"hills2"},"mark":{"type":"line","strokeWidth":0},"encoding":{"detail":{"field":"s"},"order":{"field":"i"},"fill":{"field":"z","type":"quantitative","legend":null}}},
{"data":{"name":"hidden"},"mark":{"type":"line","stroke":"#000000","strokeWidth":1,"strokeDash":[5,3]},"encoding":{"detail":{"field":"s"},"order":{"field":"i"}}},
{"data":{"name":"contours"},"mark":{"type":"line","strokeWidth":0.9,"strokeDash":[2.5,1],"opacity":0.5},"encoding":{"detail":{"field":"s"},"order":{"field":"i"},"stroke":{"field":"z","type":"quantitative","legend":null,"scale":{"domain":[95.9,102.55,109.2,115.85,122.5,129.15,135.8,142.45,149.1],"range":["#000080","#0000ff","#0080ff","#00ffff","#80ff80","#ffff00","#ff8000","#ff0000","#800000"]}}}},
{"data":{"name":"axes"},"mark":{"type":"line","stroke":"#808080","strokeWidth":0.8,"strokeDash":[3,1]},"encoding":{"detail":{"field":"s"},"order":{"field":"i"}}},
{"data":{"name":"ticks"},"mark":{"type":"rule","stroke":"#444444","strokeWidth":0.7},"encoding":{"x2":{"field":"u2"}}},
{"data":{"name":"labels"},"mark":{"type":"text","font":"Liberation Sans","fontSize":7,"fill":"#444444","align":"center","baseline":"middle"},"encoding":{"text":{"field":"t"}}}
]}
